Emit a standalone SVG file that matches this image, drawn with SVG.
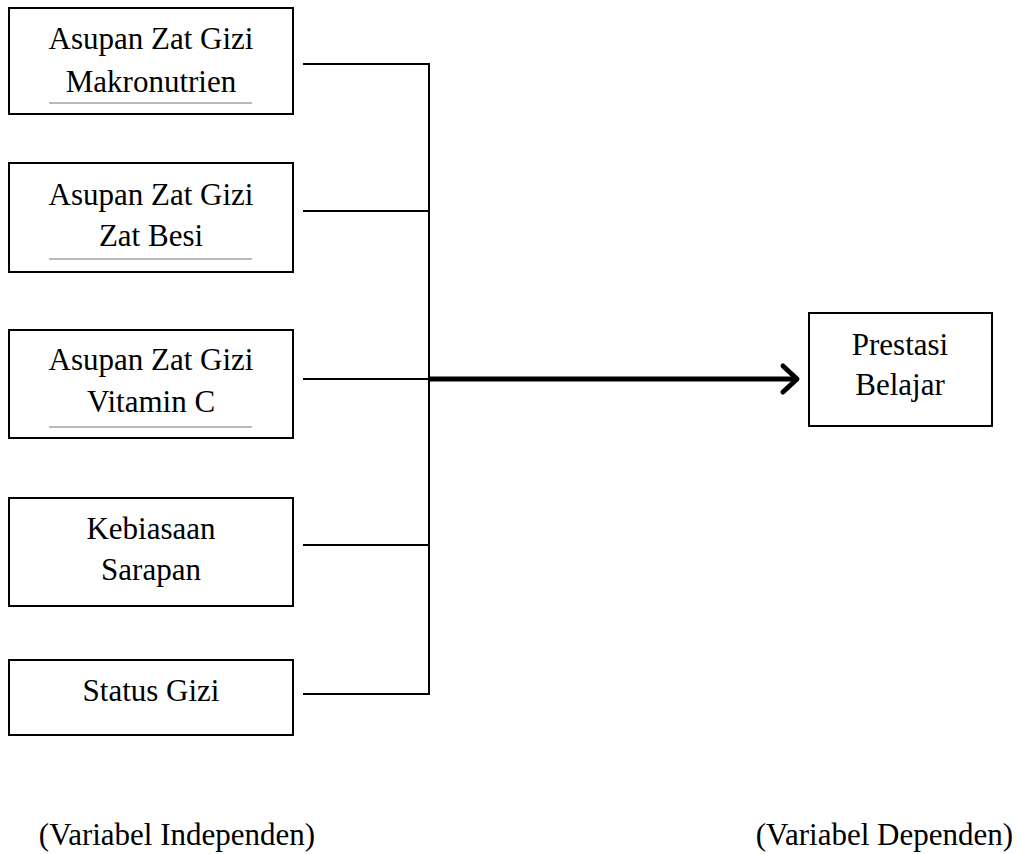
<svg xmlns="http://www.w3.org/2000/svg" width="1020" height="854" viewBox="0 0 1020 854">
<style>
.box{fill:#fff;stroke:#000;stroke-width:2}
.t{font-family:"Liberation Serif","Times New Roman",serif;font-size:31px;fill:#000;text-anchor:middle}
.ul{stroke:#777;stroke-width:1.2}
.c{stroke:#000;stroke-width:2;fill:none}
.arrow{stroke:#000;stroke-width:5;fill:none;stroke-linecap:round;stroke-linejoin:round}
</style>
<rect width="1020" height="854" fill="#fff"/>
<g id="connectors">
<line class="c" x1="303" y1="64" x2="430" y2="64"/>
<line class="c" x1="303" y1="211" x2="429" y2="211"/>
<line class="c" x1="303" y1="379" x2="429" y2="379"/>
<line class="c" x1="303" y1="545" x2="429" y2="545"/>
<line class="c" x1="303" y1="694" x2="430" y2="694"/>
<line class="c" x1="429" y1="63" x2="429" y2="695"/>
<line class="arrow" x1="430" y1="379" x2="795" y2="379"/>
<polyline class="arrow" points="783,366 797,379 783,392"/>
</g>
<g id="node1">
<rect class="box" x="9" y="8" width="284" height="106"/>
<text class="t" x="151" y="49">Asupan Zat Gizi</text>
<text class="t" x="151" y="92">Makronutrien</text>
<line class="ul" x1="49" y1="103" x2="252" y2="103"/>
</g>
<g id="node2">
<rect class="box" x="9" y="163" width="284" height="109"/>
<text class="t" x="151" y="205">Asupan Zat Gizi</text>
<text class="t" x="151" y="246">Zat Besi</text>
<line class="ul" x1="49" y1="259" x2="252" y2="259"/>
</g>
<g id="node3">
<rect class="box" x="9" y="330" width="284" height="108"/>
<text class="t" x="151" y="370">Asupan Zat Gizi</text>
<text class="t" x="151" y="412">Vitamin C</text>
<line class="ul" x1="49" y1="427" x2="252" y2="427"/>
</g>
<g id="node4">
<rect class="box" x="9" y="498" width="284" height="108"/>
<text class="t" x="151" y="539">Kebiasaan</text>
<text class="t" x="151" y="580">Sarapan</text>
</g>
<g id="node5">
<rect class="box" x="9" y="660" width="284" height="75"/>
<text class="t" x="151" y="701">Status Gizi</text>
</g>
<g id="node6">
<rect class="box" x="809" y="313" width="183" height="113"/>
<text class="t" x="900" y="355">Prestasi</text>
<text class="t" x="900" y="395">Belajar</text>
</g>
<g id="labels">
<text class="t" x="177" y="845">(Variabel Independen)</text>
<text class="t" x="1013" y="845" style="text-anchor:end">(Variabel Dependen)</text>
</g>
</svg>
